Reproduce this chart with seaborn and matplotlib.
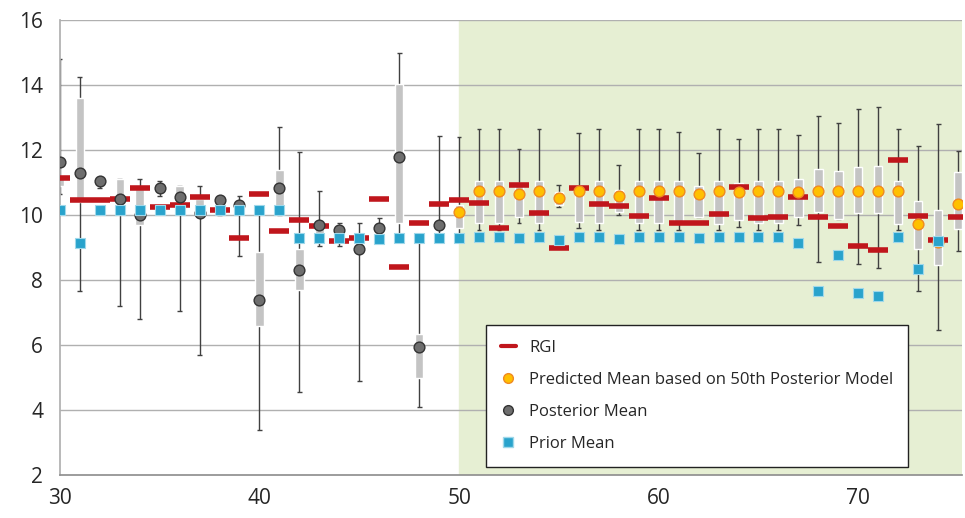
import numpy as np
import pandas as pd
import matplotlib
matplotlib.use("Agg")
import matplotlib.pyplot as plt
import seaborn as sns
from matplotlib.lines import Line2D

nan = np.nan
x = list(range(30, 76))
rgi = [11.15,10.45,10.45,10.5,10.85,10.25,10.3,10.55,10.15,9.3,
       10.65,9.5,9.85,9.65,9.2,9.3,10.5,8.4,9.75,10.35,
       10.45,10.36,9.6,10.92,10.07,8.98,10.82,10.33,10.28,9.96,
       10.53,9.77,9.77,10.02,10.87,9.92,9.95,10.56,9.95,9.66,
       9.06,8.92,11.69,9.96,9.23,9.93]
posterior = [11.65,11.3,11.05,10.5,10.0,10.85,10.55,10.05,10.45,10.3,
             7.4,10.85,8.3,9.7,9.55,8.95,9.6,11.8,5.95,9.7] + [nan]*26
predicted = [nan]*20 + [10.1,10.74,10.74,10.65,10.74,10.53,10.74,10.74,10.58,10.74,
             10.74,10.74,10.64,10.74,10.7,10.74,10.74,10.7,10.74,10.74,
             10.74,10.74,10.74,9.74,9.16,10.33]
prior = [10.15,9.15,10.15,10.15,10.15,10.15,10.15,10.15,10.15,10.15,
         10.15,10.15,9.3,9.3,9.3,9.3,9.25,9.3,9.3,9.3,
         9.3,9.33,9.33,9.3,9.33,9.23,9.33,9.33,9.25,9.33,
         9.33,9.33,9.29,9.33,9.33,9.33,9.33,9.13,7.67,8.78,
         7.61,7.52,9.33,8.34,9.2,nan]
q1 = [10.9,10.4,nan,10.0,9.7,nan,10.1,10.0,nan,10.1,
      6.6,10.0,7.7,9.4,9.3,9.0,nan,9.75,5.0,nan,
      9.6,9.75,9.75,9.95,9.75,10.3,9.8,9.75,10.1,9.75,
      9.75,9.75,9.95,9.74,9.85,9.75,9.75,9.95,10.1,9.87,
      10.05,10.05,9.74,8.97,8.47,9.58]
q3 = [11.2,13.6,nan,11.1,10.8,nan,10.9,10.5,nan,10.4,
      8.85,11.4,8.95,9.8,9.7,9.4,nan,14.05,6.35,nan,
      10.3,11.05,11.05,10.98,11.05,10.7,10.9,11.05,10.77,11.05,
      11.05,11.05,10.9,11.05,11.0,11.05,11.05,11.1,11.42,11.35,
      11.47,11.52,11.05,10.43,10.15,11.32]
wlo = [10.65,7.65,10.85,7.2,6.8,10.6,7.05,5.7,10.0,8.75,
       3.4,10.0,4.55,9.05,9.05,4.9,9.3,9.3,4.1,9.4,
       9.3,9.54,9.54,9.77,9.54,10.24,9.6,9.54,10.0,9.54,
       9.54,9.54,9.95,9.54,9.64,9.54,9.54,9.69,8.55,9.87,
       8.48,8.38,9.54,7.67,6.46,8.9]
whi = [14.8,14.25,11.05,11.1,11.1,11.05,10.9,10.9,10.5,10.6,
       10.15,12.7,11.95,10.75,9.75,9.75,9.9,15.0,9.35,12.45,
       12.4,12.65,12.65,12.03,12.65,10.93,12.52,12.65,11.54,12.65,
       12.65,12.55,11.92,12.65,12.34,12.65,12.65,12.47,13.05,12.84,
       13.27,13.32,12.65,12.12,12.81,11.98]

df = pd.DataFrame(dict(x=x, rgi=rgi, posterior=posterior, predicted=predicted,
                       prior=prior, q1=q1, q3=q3, wlo=wlo, whi=whi))

sns.set_theme(style="white")
plt.rcParams['font.family'] = ['Open Sans', 'DejaVu Sans']
fig = plt.figure(figsize=(9.65, 5.18), dpi=100)
ax = fig.add_axes([0.062, 0.083, 0.935, 0.878])

ax.axvspan(50, 75.2, color='#e6efd3', zorder=0)
for yv in range(4, 17, 2):
    ax.axhline(yv, color='#b0b0b0', lw=1, zorder=0.5)

ax.vlines(df.x, df.wlo, df.whi, color='#404040', lw=1, zorder=1)
ax.hlines(df.wlo, df.x-0.12, df.x+0.12, color='#404040', lw=1, zorder=1)
ax.hlines(df.whi, df.x-0.12, df.x+0.12, color='#404040', lw=1, zorder=1)
ax.bar(df.x, df.q3-df.q1, bottom=df.q1, width=0.42, color='#c4c4c4', zorder=2)

sns.scatterplot(data=df, x='x', y='rgi', marker='_', s=190, linewidth=4,
                color='#c0161c', ax=ax, zorder=3)
sns.scatterplot(data=df, x='x', y='posterior', marker='o', s=60, color='#6e6e6e',
                edgecolor='#333333', linewidth=1, ax=ax, zorder=4)
sns.scatterplot(data=df, x='x', y='predicted', marker='o', s=60, color='#ffc000',
                edgecolor='#f08a20', linewidth=1, ax=ax, zorder=4)
sns.scatterplot(data=df, x='x', y='prior', marker='s', s=55, color='#29a3cc',
                edgecolor='#9fd8ea', linewidth=0.8, ax=ax, zorder=4)

ax.set_xlim(30, 75.2)
ax.set_ylim(2, 16)
ax.set_xticks([30, 40, 50, 60, 70])
ax.set_yticks(range(2, 17, 2))
ax.tick_params(axis='x', labelsize=15, length=0, pad=9)
ax.tick_params(axis='y', labelsize=15, length=0, pad=12)
ax.set_xlabel('')
ax.set_ylabel('')
for s in ['top', 'right']:
    ax.spines[s].set_visible(False)
ax.spines['left'].set_color('#b0b0b0')
ax.spines['bottom'].set_color('#909090')

handles = [
    Line2D([], [], color='#c0161c', lw=3),
    Line2D([], [], ls='', marker='o', ms=7, mfc='#ffc000', mec='#f08a20'),
    Line2D([], [], ls='', marker='o', ms=7, mfc='#6e6e6e', mec='#333333'),
    Line2D([], [], ls='', marker='s', ms=7, mfc='#29a3cc', mec='#9fd8ea'),
]
labels = ['RGI', 'Predicted Mean based on 50th Posterior Model', 'Posterior Mean', 'Prior Mean']
leg = ax.legend(handles, labels, loc='lower left', bbox_to_anchor=(0.463, 0.0),
                frameon=True, fancybox=False, fontsize=12, handlelength=0.9,
                borderpad=0.9, labelspacing=0.95, handletextpad=0.8)
leg.get_frame().set_edgecolor('#222222')
leg.get_frame().set_facecolor('white')
leg.get_frame().set_alpha(1)
leg.set_zorder(10)

fig.savefig('out.png', dpi=100)
